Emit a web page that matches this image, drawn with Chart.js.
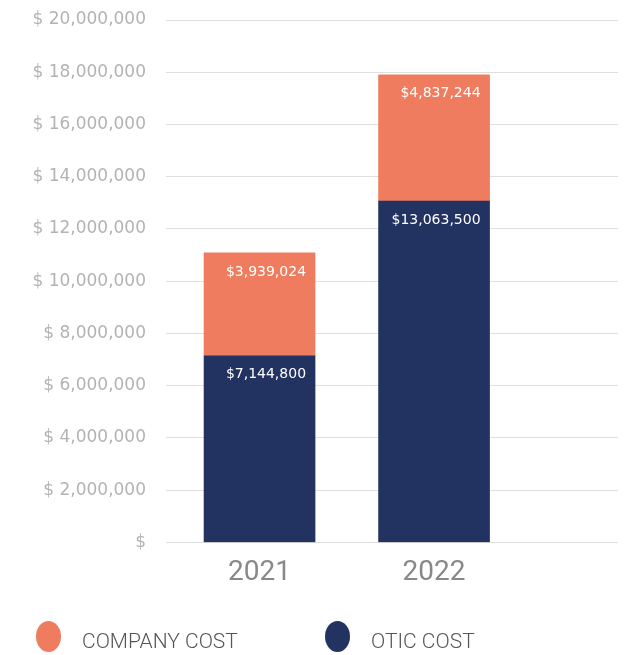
<!DOCTYPE html>
<html>
<head>
<meta charset="utf-8">
<script src="https://cdn.jsdelivr.net/npm/chart.js@4/dist/chart.umd.min.js"></script>
<style>
    body { margin: 0; background: #fff; }
    #wrap { position: relative; width: 632px; height: 655px; }
    #legend { position: absolute; left: 0; top: 621px; width: 632px; height: 34px; }
    .item { position: absolute; top: 0; display: flex; align-items: center; height: 31px; }
    .dot { width: 25px; height: 31px; border-radius: 50%; margin-right: 21px; }
    .txt { font-family: Roboto, sans-serif; font-weight: 300; font-size: 21px; color: #555; padding-top: 9px; }
</style>
</head>
<body>
<div id="wrap">
    <canvas id="chart" width="632" height="655"></canvas>
    <div id="legend"></div>
</div>
<script>
const years = [2021, 2022];
const oticCost = [7144800, 13063500];
const companyCost = [3939024, 4837244];
const yTicks = [0, 2000000, 4000000, 6000000, 8000000, 10000000, 12000000, 14000000, 16000000, 18000000, 20000000];

const NAVY = '#223362';
const CORAL = '#EF7C5E';

const money = v => '$' + v.toLocaleString('en-US');

// white value labels, top-right inside each bar segment
const valueLabels = {
    id: 'valueLabels',
    afterDatasetsDraw(chart) {
        const ctx = chart.ctx;
        ctx.save();
        ctx.fillStyle = '#fff';
        ctx.font = '14px "DejaVu Sans", sans-serif';
        ctx.textAlign = 'right';
        ctx.textBaseline = 'middle';
        chart.data.datasets.forEach((ds, i) => {
            chart.getDatasetMeta(i).data.forEach((bar, j) => {
                const p = bar.getProps(['x', 'y', 'width'], true);
                ctx.fillText(money(ds.data[j]), p.x + p.width / 2 - 9, p.y + 19);
            });
        });
        ctx.restore();
    }
};

const chart = new Chart(document.getElementById('chart'), {
    type: 'bar',
    data: {
        labels: years,
        datasets: [
            {
                label: 'OTIC COST',
                data: oticCost,
                backgroundColor: NAVY,
                barThickness: 111,
            },
            {
                label: 'COMPANY COST',
                data: companyCost,
                backgroundColor: CORAL,
                barThickness: 111,
            },
        ]
    },
    options: {
        responsive: false,
        animation: false,
        layout: { padding: { top: 20, right: 14, bottom: 59, left: 0 } },
        plugins: {
            legend: { display: false },
            tooltip: { enabled: false },
        },
        scales: {
            x: {
                type: 'linear',
                stacked: true,
                offset: false,
                min: 2020.464,
                max: 2023.054,
                afterBuildTicks: scale => { scale.ticks = years.map(v => ({ value: v })); },
                grid: { display: false },
                border: { display: false },
                ticks: {
                    padding: 6,
                    color: '#888',
                    font: { family: 'Roboto', size: 28 },
                    callback: v => String(v),
                },
            },
            y: {
                stacked: true,
                min: 0,
                max: 20000000,
                afterBuildTicks: scale => { scale.ticks = yTicks.map(v => ({ value: v })); },
                afterFit: scale => {
                    scale.width = 166;
                    scale.paddingTop = 0;
                    scale.paddingBottom = 0;
                },
                grid: { color: '#dedede', drawTicks: false },
                border: { display: false },
                ticks: {
                    padding: 20,
                    color: '#b3b3b3',
                    font: { family: 'DejaVu Sans', size: 17 },
                    callback: v => v === 0 ? '$' : '$ ' + v.toLocaleString('en-US'),
                },
            },
        },
    },
    plugins: [valueLabels],
});

// html legend from the chart's own legend items, company first
const legendPos = [36, 325];
const items = chart.options.plugins.legend.labels.generateLabels(chart).reverse();
const box = document.getElementById('legend');
items.forEach((it, k) => {
    const el = document.createElement('div');
    el.className = 'item';
    el.style.left = legendPos[k] + 'px';
    el.innerHTML = '<span class="dot" style="background:' + it.fillStyle + '"></span><span class="txt">' + it.text + '</span>';
    box.appendChild(el);
});
</script>
</body>
</html>
